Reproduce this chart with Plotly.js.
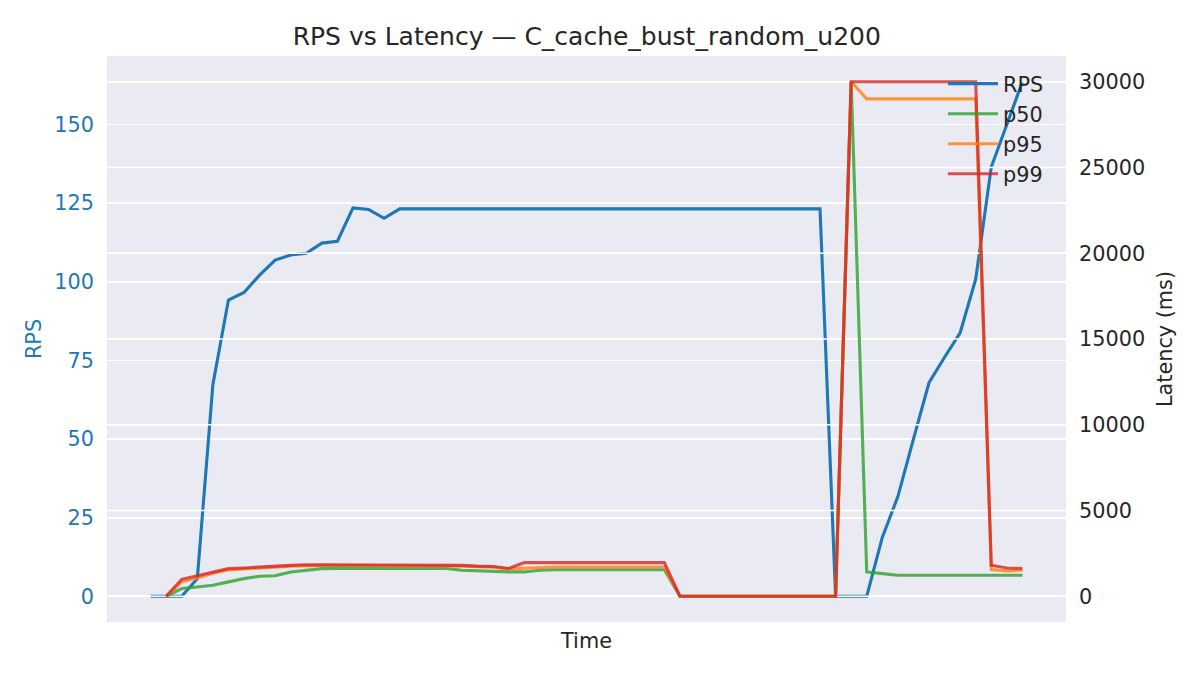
<!DOCTYPE html>
<html>
<head>
<meta charset="utf-8">
<script src="https://cdn.plot.ly/plotly-3.0.1.min.js"></script>
<style>html,body{margin:0;padding:0;background:#fff}#chart{width:1200px;height:675px}</style>
</head>
<body>
<div id="chart"></div>
<script>
// sample index (time steps)
const timeIdx = Array.from({length: 57}, (_, i) => i);

const rps = [0, 0, 0, 5.6, 67.3, 94.2, 96.6, 102.1, 106.9, 108.5, 109.1, 112.3, 112.9, 123.5, 123.0, 120.2,
  123.2, 123.2, 123.2, 123.2, 123.2, 123.2, 123.2, 123.2, 123.2, 123.2, 123.2, 123.2, 123.2, 123.2,
  123.2, 123.2, 123.2, 123.2, 123.2, 123.2, 123.2, 123.2, 123.2, 123.2, 123.2, 123.2, 123.2, 123.2,
  0, 0, 0, 18.7, 31.7, 50, 67.9, 76, 83.8, 100.8, 136.5, 150, 163.6];

const p50 = [null, 0, 450, 545, 640, 840, 1030, 1170, 1200, 1420, 1520, 1610, 1620, 1620, 1620, 1620,
  1620, 1620, 1620, 1620, 1520, 1480, 1420, 1420, 1420, 1520, 1550, 1550, 1550, 1550,
  1550, 1550, 1550, 1550, 0, 0, 0, 0, 0, 0, 0, 0, 0, 0,
  0, 30000, 1420, 1320, 1225, 1225, 1225, 1225, 1225, 1225, 1225, 1225, 1225];

const p95 = [null, 0, 840, 1070, 1340, 1540, 1580, 1650, 1700, 1760, 1800, 1800, 1800, 1800, 1800, 1800,
  1800, 1800, 1800, 1800, 1760, 1720, 1700, 1600, 1640, 1710, 1710, 1710, 1710, 1710,
  1710, 1710, 1710, 1710, 0, 0, 0, 0, 0, 0, 0, 0, 0, 0,
  0, 30000, 29000, 29000, 29000, 29000, 29000, 29000, 29000, 29000, 1560, 1480, 1520];

const p99 = [null, 0, 990, 1190, 1420, 1610, 1650, 1710, 1750, 1800, 1840, 1840, 1840, 1840, 1840, 1840,
  1840, 1840, 1840, 1840, 1800, 1760, 1740, 1620, 1960, 1960, 1960, 1960, 1960, 1960,
  1960, 1960, 1960, 1960, 0, 0, 0, 0, 0, 0, 0, 0, 0, 0,
  0, 30000, 30000, 30000, 30000, 30000, 30000, 30000, 30000, 30000, 1810, 1650, 1620];

const rpsTicks = [0, 25, 50, 75, 100, 125, 150];
const latTicks = [0, 5000, 10000, 15000, 20000, 25000, 30000];

const FONT = 'DejaVu Sans, sans-serif';
const TXT = '#262626';
const BLUE = '#1f77b4';
const X_RANGE = [-2.8, 58.8];

// The latency axis grid is drawn above the RPS line (twin-axis layering), so build it
// as a white line set on the latency axis, placed before the latency series.
const gridX = [], gridY = [];
latTicks.forEach(t => { gridX.push(X_RANGE[0], X_RANGE[1], null); gridY.push(t, t, null); });

const traces = [
  {x: timeIdx, y: rps, name: 'RPS', type: 'scatter', mode: 'lines', yaxis: 'y',
   line: {color: BLUE, width: 3.1}, legendgroup: 'a'},
  {x: gridX, y: gridY, type: 'scatter', mode: 'lines', yaxis: 'y2', showlegend: false,
   hoverinfo: 'skip', line: {color: '#ffffff', width: 1.7}, cliponaxis: true},
  {x: timeIdx, y: p50, name: 'p50', type: 'scatter', mode: 'lines', yaxis: 'y2',
   line: {color: '#2ca02c', width: 3.1}, opacity: 0.8, legendgroup: 'b'},
  {x: timeIdx, y: p95, name: 'p95', type: 'scatter', mode: 'lines', yaxis: 'y2',
   line: {color: '#ff7f0e', width: 3.1}, opacity: 0.8, legendgroup: 'c'},
  {x: timeIdx, y: p99, name: 'p99', type: 'scatter', mode: 'lines', yaxis: 'y2',
   line: {color: '#d62728', width: 3.1}, opacity: 0.8, legendgroup: 'd'}
];

const layout = {
  width: 1200, height: 675,
  margin: {l: 107, r: 134, t: 56, b: 53},
  paper_bgcolor: '#ffffff',
  plot_bgcolor: '#EAEAF2',
  font: {family: FONT, color: TXT, size: 21},
  title: {text: 'RPS vs Latency — C_cache_bust_random_u200', x: 0.489, xanchor: 'center',
          y: 0.947, yanchor: 'middle', font: {family: FONT, size: 25, color: TXT}},
  showlegend: true,
  legend: {x: 0.8717, xanchor: 'left', y: 0.9865, yanchor: 'top', bgcolor: 'rgba(0,0,0,0)',
           itemwidth: 50,
           font: {family: FONT, size: 20.8, color: TXT}, traceorder: 'grouped', tracegroupgap: 0},
  xaxis: {range: X_RANGE, showticklabels: false, showgrid: false, zeroline: false,
          ticks: '', title: {text: 'Time', font: {family: FONT, size: 20.8, color: TXT}, standoff: 11}},
  yaxis: {range: [-8.18, 171.8], tickvals: rpsTicks, ticktext: rpsTicks.map(String),
          showgrid: true, gridcolor: '#ffffff', gridwidth: 1.7, zeroline: false, ticks: '',
          ticklabelstandoff: 12,
          tickfont: {family: FONT, size: 20.8, color: BLUE},
          title: {text: 'RPS', font: {family: FONT, size: 20.8, color: BLUE}, standoff: 7}},
  yaxis2: {range: [-1500, 31500], overlaying: 'y', side: 'right', tickvals: latTicks,
           ticktext: latTicks.map(String), showgrid: true, gridcolor: '#ffffff', gridwidth: 1.7,
           zeroline: false, ticks: '', ticklabelstandoff: 12,
           tickfont: {family: FONT, size: 20.8, color: TXT},
           title: {text: 'Latency (ms)', font: {family: FONT, size: 20.8, color: TXT}, standoff: 13}}
};

Plotly.newPlot('chart', traces, layout, {displayModeBar: false, staticPlot: true});
</script>
</body>
</html>
